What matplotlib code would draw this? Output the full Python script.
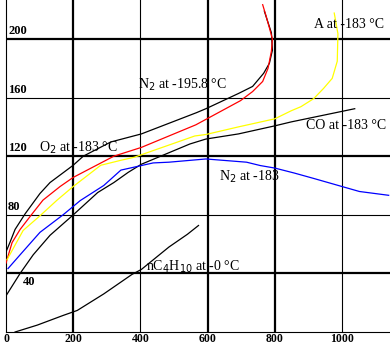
import matplotlib
matplotlib.use("Agg")
import matplotlib.pyplot as plt

# Curves (x, y in chart units)
n2_low_x = [0, 12, 27, 57, 101, 131, 200, 230, 312, 403, 567, 595, 692, 734, 767, 784, 793, 790, 777, 769]
n2_low_y = [54.7, 61.3, 70, 80.7, 94.5, 102, 113.8, 120, 129.7, 135.2, 149.7, 152.4, 162.8, 167.6, 176.6, 183.4, 192.3, 204.2, 213.3, 219]

o2_x = [0, 18, 42, 78, 110, 161, 200, 321, 403, 565, 698, 734, 764, 780, 790, 793, 784, 774, 764]
o2_y = [47, 61, 70, 80.7, 90, 99.3, 105.5, 120, 126, 141.4, 157.9, 164.1, 171, 180, 191.7, 200, 207.6, 215.8, 223.4]

ar_x = [3, 27, 51, 101, 152, 200, 282, 342, 382, 562, 595, 692, 800, 849, 878, 916, 945, 971, 986, 988, 977]
ar_y = [49.3, 59.3, 69.3, 79.3, 90, 99.3, 113.8, 117.2, 119.3, 133.8, 134.8, 140, 145.5, 151, 153.8, 159.3, 166.2, 173.1, 184.8, 203.6, 217.7]

co_x = [0, 42, 81, 131, 197, 273, 321, 364, 403, 547, 595, 692, 800, 849, 994, 1038]
co_y = [24.7, 40, 52.7, 66, 79.3, 95.2, 102, 109, 114.5, 128.3, 131.7, 135.2, 140.7, 143.4, 150.3, 152.4]

n2_x = [6, 42, 101, 170, 221, 291, 342, 438, 485, 595, 716, 757, 800, 858, 916, 1000, 1052, 1139]
n2_y = [43.3, 52.7, 68, 80, 89.7, 100, 110.5, 115.4, 115.9, 118.1, 115.9, 113.6, 111.9, 108.5, 104.8, 99.3, 95.9, 93.3]

c4_x = [27, 93, 170, 212, 291, 375, 403, 485, 540, 573]
c4_y = [0, 4.7, 11.3, 14.7, 26, 39.3, 42.7, 58, 66.7, 72.7]

x_ticks = [0, 200, 400, 600, 800, 1000]
y_ticks = [40, 80, 120, 160, 200]
thick_x = [200, 600, 800]
thin_x = [400, 1000]
thick_y = [40, 120, 200]
thin_y = [80, 160]

serif = "Liberation Serif"

fig = plt.figure(figsize=(3.9, 3.45), dpi=100)
ax = fig.add_axes([6 / 390, 13 / 345, 384 / 390, 332 / 345])
ax.set_xlim(0, 1143)
ax.set_ylim(0, 226.6)

for s in ["top", "right"]:
    ax.spines[s].set_visible(False)
for s in ["left", "bottom"]:
    ax.spines[s].set_linewidth(0.8)
    ax.spines[s].set_color("black")

# grid
for v in thick_x:
    ax.axvline(v, color="black", lw=1.6, zorder=1)
for v in thin_x:
    ax.axvline(v, color="black", lw=0.8, zorder=1)
for v in thick_y:
    ax.axhline(v, color="black", lw=1.6, zorder=1)
for v in thin_y:
    ax.axhline(v, color="black", lw=0.8, zorder=1)

# curves
ax.plot(n2_low_x, n2_low_y, color="black", lw=0.9, zorder=3)
ax.plot(o2_x, o2_y, color="#ff0000", lw=0.9, zorder=3)
ax.plot(ar_x, ar_y, color="#ffff00", lw=0.9, zorder=3)
ax.plot(co_x, co_y, color="black", lw=0.9, zorder=3)
ax.plot(n2_x, n2_y, color="#0000ff", lw=0.9, zorder=3)
ax.plot(c4_x, c4_y, color="black", lw=0.9, zorder=3)

# curve labels
lab = dict(fontsize=10, family=serif, ha="left", va="baseline", zorder=4)
ax.text(394, 166.3, r"N$_2$ at -195.8 °C", **lab)
ax.text(98, 122.8, r"O$_2$ at -183 °C", **lab)
ax.text(916, 207.7, "A at -183 °C", **lab)
ax.text(893, 138.6, "CO at -183 °C", **lab)
ax.text(633, 103.4, r"N$_2$ at -183", **lab)
ax.text(416, 42, r"nC$_4$H$_{10}$ at -0 °C", **lab)

# axis numbers
ax.set_xticks(x_ticks)
ax.set_xticklabels([str(v) for v in x_ticks], fontsize=8.5, fontweight="bold", family=serif)
ax.set_yticks([])
ax.tick_params(axis="x", length=0, pad=0.5)
for v in y_ticks:
    if v == 40:
        ax.text(50, v - 2, str(v), fontsize=9, fontweight="bold", family=serif,
                ha="left", va="top")
    else:
        ax.text(6, v + 1.2, str(v), fontsize=9, fontweight="bold", family=serif,
                ha="left", va="bottom")

fig.savefig("out.png", dpi=100)
